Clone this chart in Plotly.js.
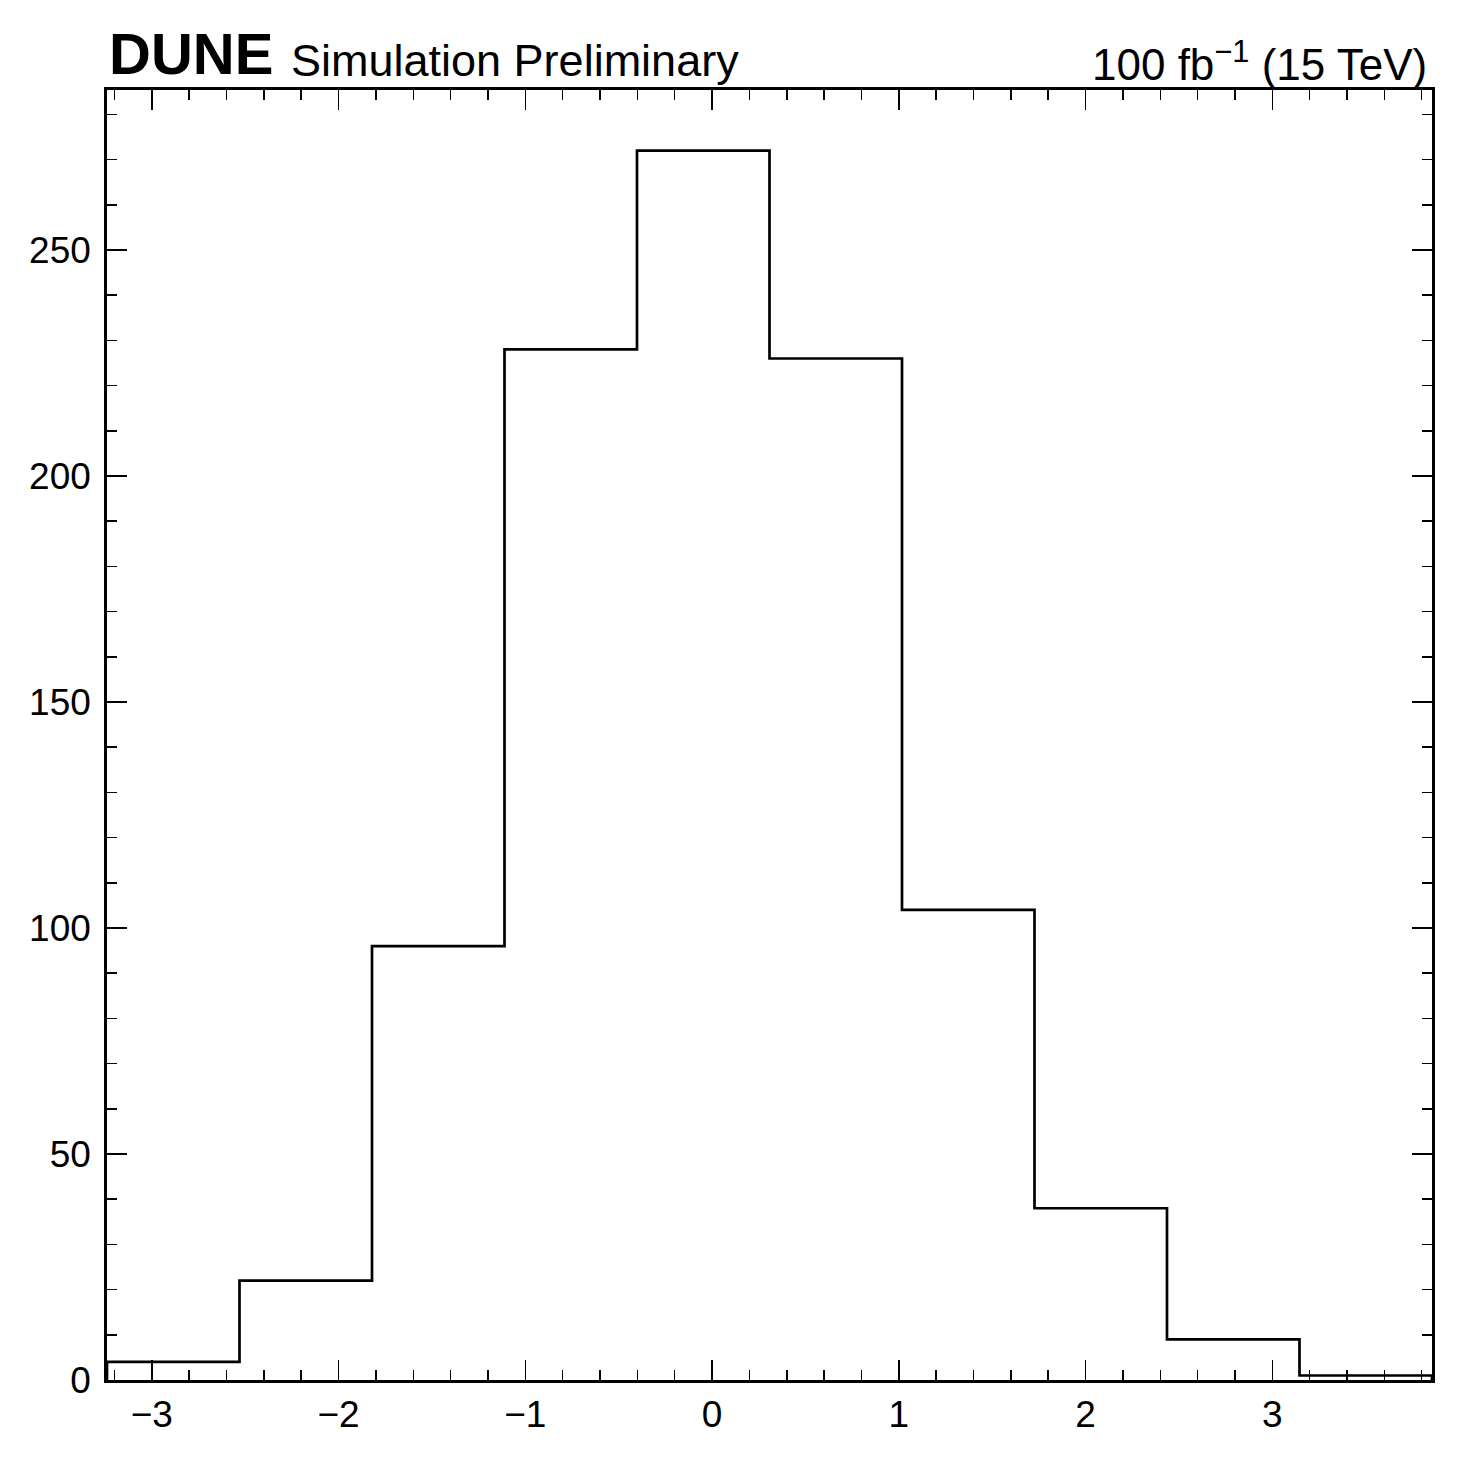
<!DOCTYPE html>
<html>
<head>
<meta charset="utf-8">
<script src="https://cdn.plot.ly/plotly-3.0.1.min.js"></script>
<style>
  html, body { margin: 0; padding: 0; background: #fff; }
  #plot { width: 1461px; height: 1461px; }
</style>
</head>
<body>
<div id="plot"></div>
<script>
// ------------------------------------------------------------------
// DATA

// bin edges (11 edges -> 10 bins)
const binEdges = [-3.240, -2.5305, -1.821, -1.1115, -0.402, 0.3075, 1.017, 1.7265, 2.436, 3.1455, 3.855];
// entries per bin
const binCounts = [4, 22, 96, 228, 272, 226, 104, 38, 9, 1];

// ------------------------------------------------------------------
// STEP OUTLINE (start and end on zero, 'hv' steps)

const stepX = [binEdges[0]].concat(binEdges, [binEdges[binEdges.length - 1]]);
const stepY = [0].concat(binCounts, [binCounts[binCounts.length - 1], 0]);

const trace = {
    type: 'scatter',
    mode: 'lines',
    x: stepX,
    y: stepY,
    line: { shape: 'hv', color: 'black', width: 2.7 },
    hoverinfo: 'skip',
    showlegend: false
};

// ------------------------------------------------------------------
// LAYOUT

const font = 'Liberation Sans, Arial, Helvetica, sans-serif';

const axisCommon = {
    showline: true,
    linecolor: 'black',
    linewidth: 2.8,
    mirror: 'allticks',
    ticks: 'inside',
    ticklen: 20,
    tickwidth: 1.5,
    tickcolor: 'black',
    showgrid: false,
    zeroline: false,
    tickfont: { family: font, size: 37, color: 'black' }
};

const layout = {
    width: 1461,
    height: 1461,
    paper_bgcolor: 'white',
    plot_bgcolor: 'white',
    margin: { t: 90, r: 29, b: 81, l: 107, pad: 0 },
    showlegend: false,
    xaxis: Object.assign({}, axisCommon, {
        range: [-3.240, 3.855],
        tick0: 0,
        dtick: 1,
        ticklabelstandoff: 0,
        minor: { tick0: 0, dtick: 0.2, ticks: 'inside', ticklen: 10, tickwidth: 1.5, tickcolor: 'black', showgrid: false }
    }),
    yaxis: Object.assign({}, axisCommon, {
        range: [0, 285.4],
        tick0: 0,
        dtick: 50,
        ticklabelstandoff: 6,
        minor: { tick0: 0, dtick: 10, ticks: 'inside', ticklen: 10, tickwidth: 1.5, tickcolor: 'black', showgrid: false }
    }),
    annotations: [
        {
            text: '<b>DUNE</b>',
            xref: 'paper', yref: 'paper',
            x: 0, y: 1,
            xanchor: 'left', yanchor: 'bottom',
            yshift: 2,
            showarrow: false,
            font: { family: font, size: 58, color: 'black' }
        },
        {
            text: 'Simulation Preliminary',
            xref: 'paper', yref: 'paper',
            x: 0.1374, y: 1,
            xanchor: 'left', yanchor: 'bottom',
            yshift: 2,
            showarrow: false,
            font: { family: font, size: 45, color: 'black' }
        },
        {
            text: '100 fb<sup>\u22121</sup> (15 TeV)',
            xref: 'paper', yref: 'paper',
            x: 1, y: 1,
            xanchor: 'right', yanchor: 'bottom',
            xshift: -3, yshift: -1,
            showarrow: false,
            font: { family: font, size: 44, color: 'black' }
        }
    ]
};

const config = {
    displayModeBar: false,
    staticPlot: true
};

Plotly.newPlot(document.getElementById('plot'), [trace], layout, config);
</script>
</body>
</html>
